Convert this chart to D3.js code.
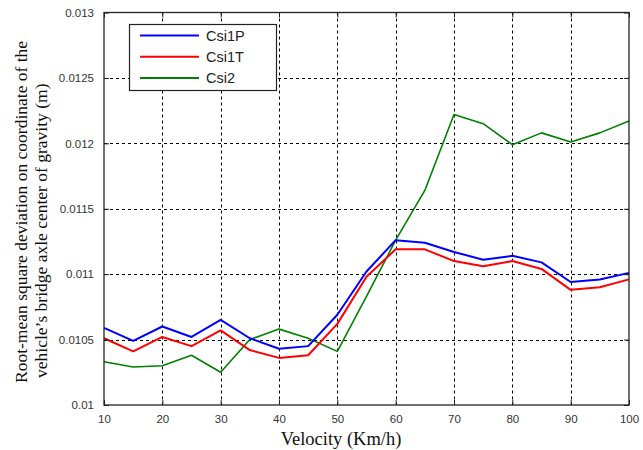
<!DOCTYPE html>
<html>
<head>
<meta charset="utf-8">
<script src="https://cdn.jsdelivr.net/npm/d3@7"></script>
<style>
  html, body { margin: 0; padding: 0; background: #fff; }
  svg { display: block; }
</style>
</head>
<body>
<svg id="chart" width="643" height="450"></svg>
<script>
// Velocity values (Km/h)
const velocity = [10, 15, 20, 25, 30, 35, 40, 45, 50, 55, 60, 65, 70, 75, 80, 85, 90, 95, 100];

// RMS deviation of the bridge axle center of gravity (m)
const csi1P = [0.01059, 0.01049, 0.01060, 0.01052, 0.01065, 0.01051, 0.01043, 0.01045, 0.01069, 0.01102,
               0.01126, 0.01124, 0.01117, 0.01111, 0.01114, 0.01109, 0.01094, 0.01096, 0.01101];
const csi1T = [0.01051, 0.01041, 0.01052, 0.01045, 0.01057, 0.01042, 0.01036, 0.01038, 0.01062, 0.01098,
               0.01119, 0.01119, 0.01110, 0.01106, 0.01110, 0.01104, 0.01088, 0.01090, 0.01096];
const csi2  = [0.01033, 0.01029, 0.01030, 0.01038, 0.01025, 0.01050, 0.01058, 0.01051, 0.01041, 0.01083,
               0.01126, 0.01164, 0.01222, 0.01215, 0.01199, 0.01208, 0.01201, 0.01208, 0.01217];

const seriesNames = ["Csi1P", "Csi1T", "Csi2"];
const seriesColors = ["#0000ff", "#ff0000", "#008000"];

const xTicks = [10, 20, 30, 40, 50, 60, 70, 80, 90, 100];
const yTicks = [0.01, 0.0105, 0.011, 0.0115, 0.012, 0.0125, 0.013];
const yTickLabels = ["0.01", "0.0105", "0.011", "0.0115", "0.012", "0.0125", "0.013"];

const svg = d3.select("#chart");
const m = { left: 104, top: 12.5, right: 629, bottom: 405 };

const x = d3.scaleLinear().domain([10, 100]).range([m.left, m.right]);
const y = d3.scaleLinear().domain([0.01, 0.013]).range([m.bottom, m.top]);

const plotW = m.right - m.left;
const plotH = m.bottom - m.top;

// Grid lines (dotted)
const grid = svg.append("g");
grid.selectAll("line.gx").data(xTicks.slice(1, -1)).enter().append("line")
  .attr("x1", d => Math.round(x(d)) + 0.5).attr("x2", d => Math.round(x(d)) + 0.5)
  .attr("y1", m.top).attr("y2", m.bottom)
  .attr("stroke", "#000").attr("stroke-width", 1).attr("stroke-dasharray", "3,3");
grid.selectAll("line.gy").data(yTicks.slice(1, -1)).enter().append("line")
  .attr("y1", d => Math.round(y(d)) + 0.5).attr("y2", d => Math.round(y(d)) + 0.5)
  .attr("x1", m.left).attr("x2", m.right)
  .attr("stroke", "#000").attr("stroke-width", 1).attr("stroke-dasharray", "3,3");

// Series lines
const seriesData = [csi1P, csi1T, csi2];
const widths = [2, 2, 1.6];
const line = d3.line().x((d, i) => x(velocity[i])).y(d => y(d));
// draw green first, then red, then blue on top
[2, 1, 0].forEach(k => {
  svg.append("path")
    .datum(seriesData[k])
    .attr("d", line)
    .attr("fill", "none")
    .attr("stroke", seriesColors[k])
    .attr("stroke-width", widths[k])
    .attr("stroke-linejoin", "round");
});

// Axes (bottom and left with labels, top and right without)
const tickFont = "Liberation Sans, Arial, sans-serif";
const xAxis = d3.axisBottom(x).tickValues(xTicks).tickSizeInner(-5).tickSizeOuter(0).tickPadding(10);
const yAxis = d3.axisLeft(y).tickValues(yTicks).tickSizeInner(-5).tickSizeOuter(0).tickPadding(10)
  .tickFormat((d, i) => yTickLabels[i]);

const gx = svg.append("g").attr("transform", `translate(0,${m.bottom})`).call(xAxis);
const gy = svg.append("g").attr("transform", `translate(${m.left},0)`).call(yAxis);
const gxTop = svg.append("g").attr("transform", `translate(0,${m.top})`)
  .call(d3.axisTop(x).tickValues(xTicks).tickSizeInner(-5).tickSizeOuter(0).tickFormat(""));
const gyRight = svg.append("g").attr("transform", `translate(${m.right},0)`)
  .call(d3.axisRight(y).tickValues(yTicks).tickSizeInner(-5).tickSizeOuter(0).tickFormat(""));

[gx, gy, gxTop, gyRight].forEach(g => {
  g.select(".domain").remove();
  g.selectAll("line").attr("stroke", "#222");
  g.selectAll("text").attr("font-family", tickFont).attr("font-size", 11.5).attr("fill", "#333");
});

// Axes box
svg.append("rect")
  .attr("x", m.left).attr("y", m.top).attr("width", plotW).attr("height", plotH)
  .attr("fill", "none").attr("stroke", "#222").attr("stroke-width", 1.3);

// Legend
const lg = svg.append("g");
lg.append("rect").attr("x", 129.5).attr("y", 24.5).attr("width", 147).attr("height", 66)
  .attr("fill", "#fff").attr("stroke", "#222").attr("stroke-width", 1.2);
seriesNames.forEach((name, i) => {
  const yy = 35.5 + i * 21.3;
  lg.append("line").attr("x1", 140).attr("x2", 199).attr("y1", yy).attr("y2", yy)
    .attr("stroke", seriesColors[i]).attr("stroke-width", 2);
  lg.append("text").attr("x", 206).attr("y", yy).attr("dy", "0.36em")
    .attr("font-family", tickFont).attr("font-size", 14.5).attr("fill", "#222")
    .text(name);
});

// Axis titles
const titleFont = "Liberation Serif, Times New Roman, serif";
svg.append("text")
  .attr("x", 341).attr("y", 445)
  .attr("text-anchor", "middle")
  .attr("font-family", titleFont).attr("font-size", 18.5).attr("fill", "#111")
  .text("Velocity (Km/h)");

const yt = svg.append("text")
  .attr("transform", "rotate(-90)")
  .attr("text-anchor", "start")
  .attr("font-family", titleFont).attr("font-size", 17.5).attr("fill", "#111");
yt.append("tspan").attr("x", -383).attr("y", 27).text("Root-mean square deviation on coordinate of the");
yt.append("tspan").attr("x", -378).attr("y", 47).text("vehicle\u2019s bridge axle center of gravity (m)");
</script>
</body>
</html>
